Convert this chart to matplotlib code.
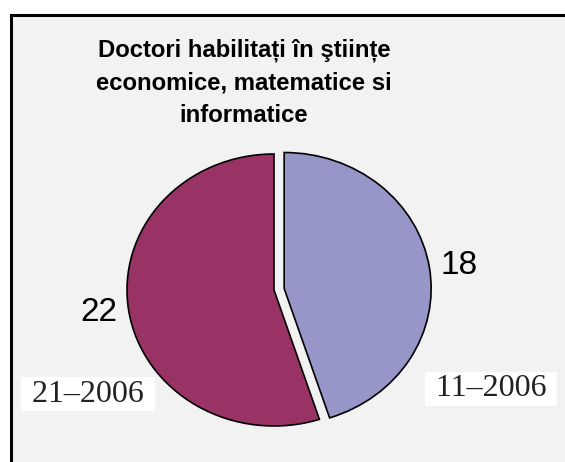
import matplotlib
matplotlib.use("Agg")
import matplotlib.pyplot as plt
from matplotlib.patches import Rectangle

# data
title = "Doctori habilitați în ştiințe\neconomice, matematice si\ninformatice"
values = [18, 22]
value_labels = ["18", "22"]
year_labels = ["11–2006", "21–2006"]
colors = ["#9696C8", "#993366"]
explode = [0.07, 0.0]

W, H = 565, 462
fig = plt.figure(figsize=(W / 100, H / 100), dpi=100)
fig.patch.set_facecolor("white")

def fx(px):
    return px / W

def fy(py):
    return 1 - py / H

# grey frame, no border on the right / bottom (cut off)
frame = Rectangle((fx(11), fy(480)), fx(600) - fx(11), fy(15) - fy(480),
                  transform=fig.transFigure, facecolor="#F2F2F2",
                  edgecolor="black", linewidth=2.2, zorder=-5)
fig.patches.append(frame)

fig.text(fx(244), fy(38), title, ha="center", va="top",
         fontsize=17.2, fontweight="bold", family="Liberation Sans",
         linespacing=1.55)

# pie axes: slightly wider than tall, like the original
rx, ry = 147, 136
cx, cy = 274, 290
lim = 1.2
ax = fig.add_axes([fx(cx - lim * rx), fy(cy + lim * ry),
                   2 * lim * rx / W, 2 * lim * ry / H])
ax.set_zorder(2)
ax.patch.set_visible(False)
wedges, texts = ax.pie(values, labels=value_labels, colors=colors,
                       explode=explode, startangle=90, counterclock=False,
                       labeldistance=1.08,
                       wedgeprops=dict(edgecolor="black", linewidth=1.2),
                       textprops=dict(fontsize=24, family="Liberation Sans"))
ax.set_aspect("auto")
ax.set_xlim(-lim, lim)
ax.set_ylim(-lim, lim)
ax.axis("off")

# year boxes
fig.text(fx(491), fy(389), " " + year_labels[0] + " ", ha="center", va="center",
         fontsize=23, family="Liberation Serif", color="#222222",
         bbox=dict(facecolor="white", edgecolor="none", pad=2))
fig.text(fx(88), fy(394), " " + year_labels[1] + " ", ha="center", va="center",
         fontsize=23, family="Liberation Serif", color="#222222",
         bbox=dict(facecolor="white", edgecolor="none", pad=2))

fig.savefig("out.png", dpi=100)
